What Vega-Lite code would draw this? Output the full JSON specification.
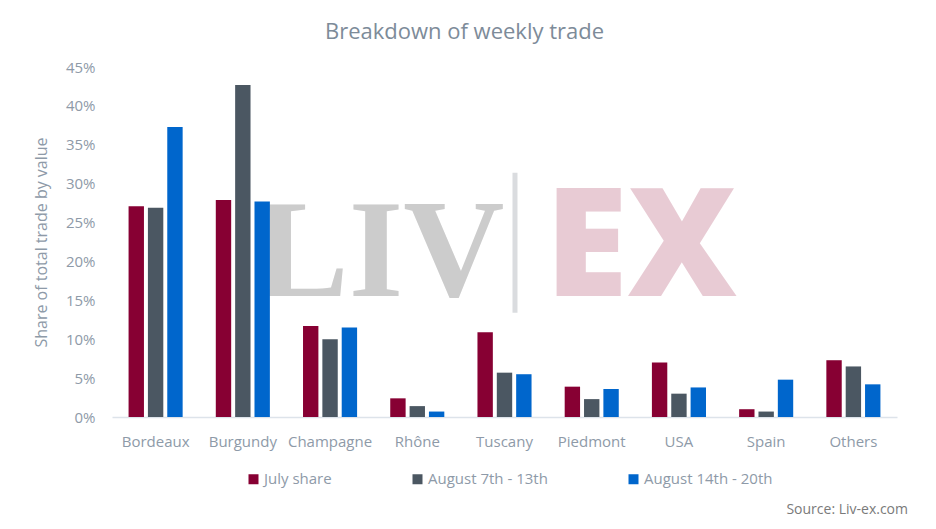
{
  "$schema": "https://vega.github.io/schema/vega-lite/v6.json",
  "width": 785,
  "height": 350,
  "autosize": {"type": "none"},
  "padding": {"left": 112, "top": 67, "right": 39, "bottom": 112},
  "background": "white",
  "config": {
    "font": "Open Sans",
    "view": {"stroke": null},
    "axis": {"labelColor": "#8e9aa8", "titleColor": "#8e9aa8", "labelFont": "Open Sans", "titleFont": "Open Sans"}
  },
  "title": {
    "text": "Breakdown of weekly trade",
    "fontSize": 22,
    "fontWeight": "normal",
    "color": "#7d8b99",
    "anchor": "middle",
    "offset": 16,
    "dx": -40
  },
  "datasets": {
    "trade": [
      {"region": "Bordeaux", "period": "July share", "share": 0.271},
      {"region": "Bordeaux", "period": "August 7th - 13th", "share": 0.269},
      {"region": "Bordeaux", "period": "August 14th - 20th", "share": 0.373},
      {"region": "Burgundy", "period": "July share", "share": 0.279},
      {"region": "Burgundy", "period": "August 7th - 13th", "share": 0.427},
      {"region": "Burgundy", "period": "August 14th - 20th", "share": 0.277},
      {"region": "Champagne", "period": "July share", "share": 0.117},
      {"region": "Champagne", "period": "August 7th - 13th", "share": 0.100},
      {"region": "Champagne", "period": "August 14th - 20th", "share": 0.115},
      {"region": "Rhône", "period": "July share", "share": 0.024},
      {"region": "Rhône", "period": "August 7th - 13th", "share": 0.014},
      {"region": "Rhône", "period": "August 14th - 20th", "share": 0.007},
      {"region": "Tuscany", "period": "July share", "share": 0.109},
      {"region": "Tuscany", "period": "August 7th - 13th", "share": 0.057},
      {"region": "Tuscany", "period": "August 14th - 20th", "share": 0.055},
      {"region": "Piedmont", "period": "July share", "share": 0.039},
      {"region": "Piedmont", "period": "August 7th - 13th", "share": 0.023},
      {"region": "Piedmont", "period": "August 14th - 20th", "share": 0.036},
      {"region": "USA", "period": "July share", "share": 0.070},
      {"region": "USA", "period": "August 7th - 13th", "share": 0.030},
      {"region": "USA", "period": "August 14th - 20th", "share": 0.038},
      {"region": "Spain", "period": "July share", "share": 0.010},
      {"region": "Spain", "period": "August 7th - 13th", "share": 0.007},
      {"region": "Spain", "period": "August 14th - 20th", "share": 0.048},
      {"region": "Others", "period": "July share", "share": 0.073},
      {"region": "Others", "period": "August 7th - 13th", "share": 0.065},
      {"region": "Others", "period": "August 14th - 20th", "share": 0.042}
    ],
    "single": [{}]
  },
  "encoding": {
    "x": {
      "field": "region",
      "type": "nominal",
      "scale": {
        "domain": ["Bordeaux", "Burgundy", "Champagne", "Rhône", "Tuscany", "Piedmont", "USA", "Spain", "Others"],
        "paddingInner": 0.38,
        "paddingOuter": 0.19
      },
      "axis": {
        "title": null,
        "labelAngle": 0,
        "labelFontSize": 15,
        "labelPadding": 17,
        "ticks": false,
        "tickSize": 0,
        "domainColor": "#dde3ea",
        "domainWidth": 1.5,
        "grid": false
      }
    },
    "y": {
      "type": "quantitative",
      "scale": {"domain": [0, 0.45]},
      "axis": {
        "title": "Share of total trade by value",
        "titleFontSize": 16,
        "titleFontWeight": "normal",
        "titlePadding": 16,
        "format": ".0%",
        "values": [0, 0.05, 0.1, 0.15, 0.2, 0.25, 0.3, 0.35, 0.4, 0.45],
        "labelFontSize": 15,
        "labelPadding": 17,
        "ticks": false,
        "tickSize": 0,
        "domain": false,
        "gridColor": "#e1e4e8",
        "gridDash": [5, 4],
        "gridWidth": 1
      }
    }
  },
  "layer": [
    {
      "data": {"name": "single"},
      "mark": {"type": "text", "font": "Liberation Serif", "fontWeight": "bold", "fontSize": 140, "color": "#cccccc", "align": "center", "baseline": "alphabetic"},
      "encoding": {
        "x": {"datum": "Champagne", "bandPosition": 1.42},
        "y": {"datum": 0.155},
        "text": {"value": "LIV"}
      }
    },
    {
      "data": {"name": "single"},
      "mark": {"type": "rule", "strokeWidth": 5, "color": "#dadcdf"},
      "encoding": {
        "x": {"datum": "Tuscany", "bandPosition": 0.694},
        "y": {"datum": 0.134},
        "y2": {"datum": 0.314}
      }
    },
    {
      "data": {"name": "single"},
      "mark": {"type": "text", "font": "Open Sans", "fontWeight": 800, "fontSize": 151, "color": "#e8cbd4", "align": "center", "baseline": "alphabetic"},
      "encoding": {
        "x": {"datum": "Piedmont", "bandPosition": 1.41},
        "y": {"datum": 0.155},
        "text": {"value": "EX"}
      }
    },
    {
      "data": {"name": "trade"},
      "mark": {"type": "bar"},
      "encoding": {
        "y": {"field": "share"},
        "xOffset": {
          "field": "period",
          "sort": ["July share", "August 7th - 13th", "August 14th - 20th"],
          "scale": {"paddingInner": 0.205, "paddingOuter": 0}
        },
        "color": {
          "field": "period",
          "type": "nominal",
          "sort": ["July share", "August 7th - 13th", "August 14th - 20th"],
          "scale": {
            "domain": ["July share", "August 7th - 13th", "August 14th - 20th"],
            "range": ["#870033", "#4b5762", "#0066cc"]
          },
          "legend": {
            "title": null,
            "orient": "none",
            "legendX": 134,
            "legendY": 404.5,
            "direction": "horizontal",
            "padding": 0,
            "symbolType": "square",
            "symbolSize": 100,
            "symbolStrokeWidth": 0,
            "labelFontSize": 15,
            "labelColor": "#8e9aa8",
            "labelOffset": 3,
            "columnPadding": 78
          }
        },
        "tooltip": [
          {"field": "region", "type": "nominal", "title": "Region"},
          {"field": "period", "type": "nominal", "title": "Period"},
          {"field": "share", "type": "quantitative", "title": "Share", "format": ".1%"}
        ]
      }
    },
    {
      "data": {"name": "single"},
      "mark": {"type": "text", "fontSize": 14, "color": "#7a7a7a", "align": "right", "baseline": "middle"},
      "encoding": {
        "x": {"datum": "Others", "bandPosition": 1.51},
        "y": {"datum": -0.1194},
        "text": {"value": "Source: Liv-ex.com"}
      }
    }
  ]
}
